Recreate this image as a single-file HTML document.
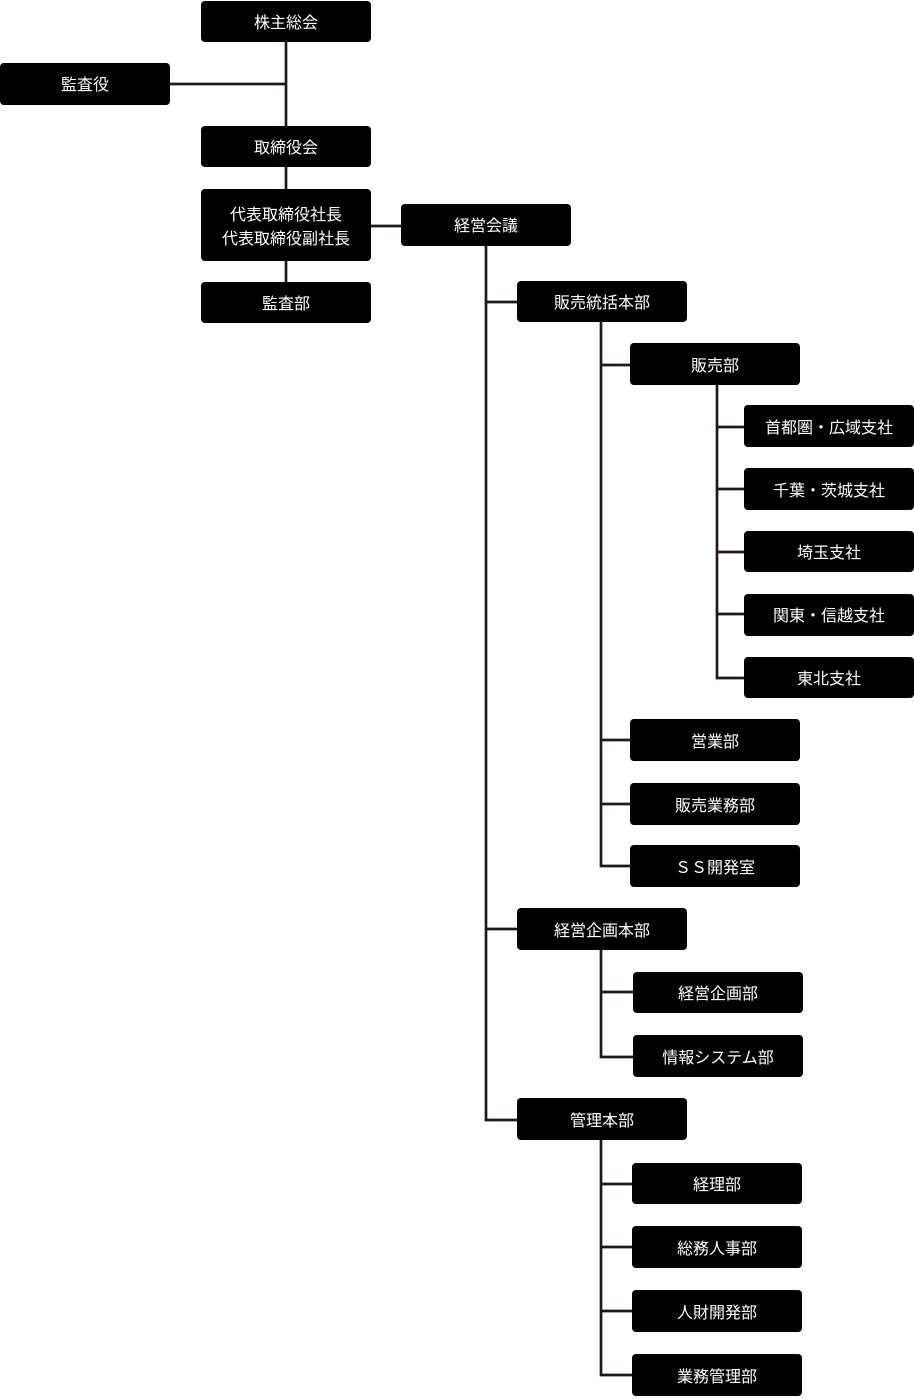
<!DOCTYPE html>
<html><head><meta charset="utf-8"><style>
html,body{margin:0;padding:0;background:#fff;}
body{width:914px;height:1399px;overflow:hidden;}
svg{display:block;}
text{font-family:"Liberation Sans","Noto Sans CJK JP",sans-serif;font-size:16px;fill:#fff;}
</style></head><body>
<svg width="914" height="1399" viewBox="0 0 914 1399" xmlns="http://www.w3.org/2000/svg">
<g stroke="#231815" stroke-width="2.7" fill="none">
<line x1="286" y1="42" x2="286" y2="126"/>
<line x1="170" y1="84" x2="286" y2="84"/>
<line x1="286" y1="167" x2="286" y2="189"/>
<line x1="286" y1="260" x2="286" y2="282"/>
<line x1="371" y1="226" x2="401" y2="226"/>
<polyline points="486,246 486,1120 517,1120"/>
<line x1="486" y1="302" x2="517" y2="302"/>
<line x1="486" y1="929" x2="517" y2="929"/>
<polyline points="601,322 601,866 630,866"/>
<line x1="601" y1="365" x2="630" y2="365"/>
<line x1="601" y1="740" x2="630" y2="740"/>
<line x1="601" y1="804" x2="630" y2="804"/>
<polyline points="717,385 717,678 744,678"/>
<line x1="717" y1="427" x2="744" y2="427"/>
<line x1="717" y1="489" x2="744" y2="489"/>
<line x1="717" y1="552" x2="744" y2="552"/>
<line x1="717" y1="614" x2="744" y2="614"/>
<polyline points="601,950 601,1057 633,1057"/>
<line x1="601" y1="992" x2="633" y2="992"/>
<polyline points="601,1140 601,1375 632,1375"/>
<line x1="601" y1="1184" x2="632" y2="1184"/>
<line x1="601" y1="1247" x2="632" y2="1247"/>
<line x1="601" y1="1311" x2="632" y2="1311"/>
</g>
<g fill="#000">
<rect x="201" y="1" width="170" height="41" rx="4"/>
<rect x="0" y="63" width="170" height="42" rx="4"/>
<rect x="201" y="126" width="170" height="41" rx="4"/>
<rect x="201" y="189" width="170" height="72" rx="4"/>
<rect x="201" y="282" width="170" height="41" rx="4"/>
<rect x="401" y="204" width="170" height="42" rx="4"/>
<rect x="517" y="281" width="170" height="41" rx="4"/>
<rect x="630" y="343" width="170" height="42" rx="4"/>
<rect x="744" y="405" width="170" height="42" rx="4"/>
<rect x="744" y="468" width="170" height="42" rx="4"/>
<rect x="744" y="531" width="170" height="41" rx="4"/>
<rect x="744" y="594" width="170" height="42" rx="4"/>
<rect x="744" y="657" width="170" height="41" rx="4"/>
<rect x="630" y="719" width="170" height="42" rx="4"/>
<rect x="630" y="783" width="170" height="42" rx="4"/>
<rect x="630" y="845" width="170" height="42" rx="4"/>
<rect x="517" y="908" width="170" height="42" rx="4"/>
<rect x="633" y="972" width="170" height="41" rx="4"/>
<rect x="633" y="1035" width="170" height="42" rx="4"/>
<rect x="517" y="1098" width="170" height="42" rx="4"/>
<rect x="632" y="1163" width="170" height="41" rx="4"/>
<rect x="632" y="1226" width="170" height="42" rx="4"/>
<rect x="632" y="1290" width="170" height="42" rx="4"/>
<rect x="632" y="1354" width="170" height="42" rx="4"/>
</g>
<g text-anchor="middle" dominant-baseline="central" transform="translate(0,1.5)">
<text x="286" y="22">株主総会</text>
<text x="85" y="84">監査役</text>
<text x="286" y="147">取締役会</text>
<text x="286" y="214">代表取締役社長</text>
<text x="286" y="238">代表取締役副社長</text>
<text x="286" y="303">監査部</text>
<text x="486" y="225">経営会議</text>
<text x="602" y="302">販売統括本部</text>
<text x="715" y="365">販売部</text>
<text x="829" y="427">首都圏・広域支社</text>
<text x="829" y="490">千葉・茨城支社</text>
<text x="829" y="552">埼玉支社</text>
<text x="829" y="615">関東・信越支社</text>
<text x="829" y="678">東北支社</text>
<text x="715" y="741">営業部</text>
<text x="715" y="805">販売業務部</text>
<text x="715" y="867">ＳＳ開発室</text>
<text x="602" y="930">経営企画本部</text>
<text x="718" y="993">経営企画部</text>
<text x="718" y="1057">情報システム部</text>
<text x="602" y="1120">管理本部</text>
<text x="717" y="1184">経理部</text>
<text x="717" y="1248">総務人事部</text>
<text x="717" y="1312">人財開発部</text>
<text x="717" y="1376">業務管理部</text>
</g>
</svg>
</body></html>
